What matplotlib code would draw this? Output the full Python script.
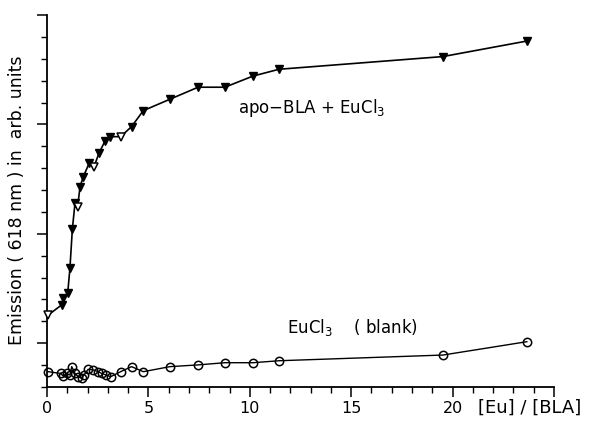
import matplotlib
matplotlib.use("Agg")
import matplotlib.pyplot as plt
import numpy as np
from matplotlib.ticker import MultipleLocator

# apo-BLA + EuCl3 (triangles)
tri_x = [0.06, 0.72, 0.80, 1.02, 1.13, 1.25, 1.38, 1.51, 1.63, 1.79, 2.09, 2.32, 2.56,
         2.86, 3.10, 3.63, 4.17, 4.75, 6.06, 7.45, 8.77, 10.16, 11.44, 19.52, 23.66]
tri_y = [1.29, 1.75, 2.05, 2.28, 3.42, 5.21, 6.40, 6.24, 7.16, 7.61, 8.25, 8.07, 8.68,
         9.24, 9.44, 9.44, 9.90, 10.63, 11.15, 11.70, 11.70, 12.21, 12.52, 13.10, 13.81]
tri_open = [0, 7, 11, 15]

# EuCl3 blank (circles)
circ_x = [0.06, 0.67, 0.80, 0.97, 1.13, 1.22, 1.38, 1.54, 1.71, 1.82, 2.03, 2.28, 2.53,
          2.69, 2.91, 3.14, 3.63, 4.17, 4.75, 6.06, 7.45, 8.77, 10.16, 11.44, 19.52, 23.66]
circ_y = [-1.30, -1.38, -1.50, -1.38, -1.45, -1.07, -1.38, -1.53, -1.60, -1.45, -1.19,
          -1.22, -1.30, -1.38, -1.45, -1.53, -1.30, -1.07, -1.30, -1.07, -0.99, -0.89,
          -0.89, -0.80, -0.54, 0.07]

xticks = [0, 5, 10, 15, 20]
xticklabels = ["0", "5", "10", "15", "20"]

plt.rcParams['font.family'] = ['DejaVu Sans']
fig = plt.figure(figsize=(5.91, 4.21), dpi=100)
ax = fig.add_axes([47/591, 1-387/421, (554-47)/591, (387-15)/421])

ax.plot(tri_x, tri_y, color='black', lw=1.2, zorder=2, clip_on=False)
filled_idx = [i for i in range(len(tri_x)) if i not in tri_open]
ax.plot([tri_x[i] for i in filled_idx], [tri_y[i] for i in filled_idx], ls='none',
        marker='v', ms=5.5, mfc='black', mec='black', zorder=3, clip_on=False)
ax.plot([tri_x[i] for i in tri_open], [tri_y[i] for i in tri_open], ls='none',
        marker='v', ms=5.5, mfc='white', mec='black', mew=1.1, zorder=3, clip_on=False)

ax.plot(circ_x, circ_y, color='black', lw=1.0, marker='o', ms=6, mfc='none',
        mec='black', mew=1.1, zorder=3, clip_on=False)

ax.set_xlim(0, 25)
ax.set_ylim(-2, 15)
for s in ['top', 'right']:
    ax.spines[s].set_visible(False)
for s in ['left', 'bottom']:
    ax.spines[s].set_linewidth(1.3)

ax.set_xticks(xticks + [25])
ax.set_xticklabels(xticklabels + [""])
ax.xaxis.set_minor_locator(MultipleLocator(1))
ax.set_yticks([0, 5, 10, 15])
ax.set_yticklabels([])
ax.yaxis.set_minor_locator(MultipleLocator(1))
ax.tick_params(axis='both', which='major', length=7, width=1.1, direction='out',
               labelsize=11.5, pad=3)
ax.tick_params(axis='both', which='minor', length=4, width=1.0, direction='out')

fig.text(238/591, 1-108/421, r"apo$-$BLA + EuCl$_3$", fontsize=12,
         va='center', ha='left')
fig.text(287/591, 1-328/421, r"EuCl$_3$    ( blank)", fontsize=12,
         va='center', ha='left')

fig.text(17/591, 1-200/421, "Emission ( 618 nm ) in  arb. units", rotation=90,
         fontsize=12.5, ha='center', va='center')
fig.text(478/591, 1-408/421, "[Eu] / [BLA]", fontsize=13, ha='left', va='center')

fig.savefig("out.png", dpi=100)
